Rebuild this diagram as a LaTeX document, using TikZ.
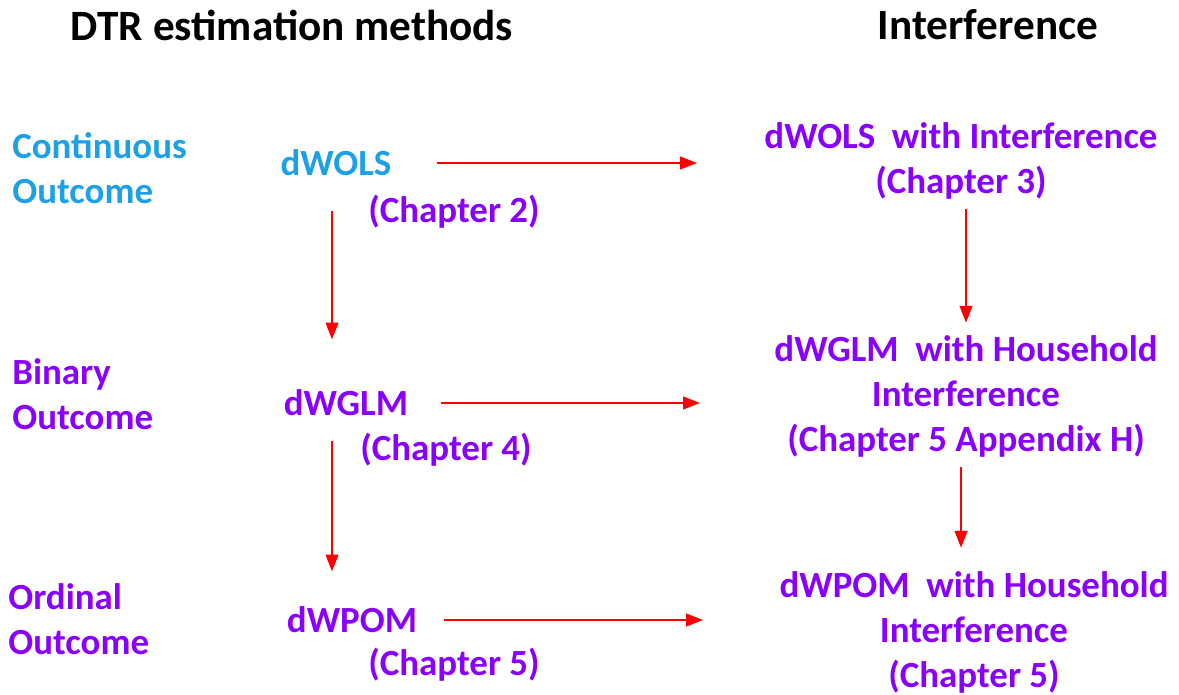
\documentclass[tikz,border=0pt]{standalone}
\usepackage{fontspec}
\setmainfont{Carlito}
\usetikzlibrary{arrows.meta}
\definecolor{outcyan}{RGB}{30,160,230}
\definecolor{chpurple}{RGB}{138,0,255}

\begin{document}
\begin{tikzpicture}[
  heading/.style={inner sep=0pt, font=\fontsize{24.6}{29}\selectfont\bfseries},
  outcome/.style={inner sep=0pt, anchor=west, align=left, font=\fontsize{21}{25.6}\selectfont\bfseries},
  method/.style={inner sep=0pt, align=center, text=chpurple, font=\fontsize{21}{25.6}\selectfont\bfseries},
  link/.style={draw=red, line width=1.4pt, -{Triangle[length=0.34cm,width=0.25cm]}}
]
  \useasboundingbox (0,0) rectangle (23.58,-13.88);

  \node[heading] (dtr) at (5.84,-0.5) {DTR estimation methods};
  \node[heading] (intf) at (19.76,-0.5) {Interference};

  % outcome types
  \node[outcome, text=outcyan] (cont) at (0.24,-3.36) {Continuous\\Outcome};
  \node[outcome, text=chpurple] (bin) at (0.24,-7.89) {Binary\\Outcome};
  \node[outcome, text=chpurple] (ord) at (0.16,-12.38) {Ordinal\\Outcome};

  % DTR methods
  \node[method, text=outcyan] (wols) at (6.72,-3.26) {dWOLS};
  \node[method] (ch2) at (9.08,-4.24) {(Chapter 2)};
  \node[method] (wglm) at (6.92,-8.06) {dWGLM};
  \node[method] (ch4) at (8.92,-9.0) {(Chapter 4)};
  \node[method] (wpom) at (7.04,-12.4) {dWPOM};
  \node[method] (ch5) at (9.08,-13.3) {(Chapter 5)};

  % with interference
  \node[method] (wolsI) at (19.22,-3.21) {dWOLS\ \ with Interference\\(Chapter 3)};
  \node[method] (wglmI) at (19.32,-7.92) {dWGLM\ \ with Household\\Interference\\(Chapter 5 Appendix H)};
  \node[method] (wpomI) at (19.48,-12.64) {dWPOM\ \ with Household\\Interference\\(Chapter 5)};

  \draw[link, shorten <=0.9cm, shorten >=1.34cm] (wols.east) -- (wols.east -| wolsI.west);
  \draw[link, shorten <=0.66cm, shorten >=1.48cm] (wglm.east) -- (wglm.east -| wglmI.west);
  \draw[link, shorten <=0.54cm, shorten >=1.52cm] (wpom.east) -- (wpom.east -| wpomI.west);

  \draw[link, shorten <=0.7cm, shorten >=1.0cm] ([xshift=-0.08cm]wols.south) -- ([xshift=-0.08cm]wols.south |- wglm.north);
  \draw[link, shorten <=0.5cm, shorten >=0.7cm] ([xshift=-0.28cm]wglm.south) -- ([xshift=-0.28cm]wglm.south |- wpom.north);
  \draw[link, shorten <=0.2cm, shorten >=0.24cm] ([xshift=0.1cm]wolsI.south) -- ([xshift=0.1cm]wolsI.south |- wglmI.north);
  \draw[link, shorten <=0.2cm, shorten >=0.46cm] ([xshift=-0.1cm]wglmI.south) -- ([xshift=-0.1cm]wglmI.south |- wpomI.north);
\end{tikzpicture}
\end{document}
